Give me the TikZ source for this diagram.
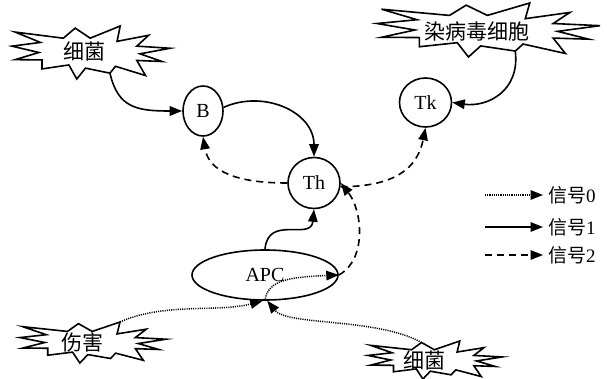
\documentclass[tikz,border=0pt]{standalone}
\usepackage{fontspec}
\setmainfont{Liberation Serif}
\newfontfamily\cjk{Noto Sans CJK SC}
\usetikzlibrary{arrows.meta,shapes.geometric}

% outline of an explosion-shaped badge, in unit coordinates
\newcommand\burstshape{%
  \draw[burstline] (-0.96,0.77) -- (-0.35,0.54) -- (-0.20,0.92) -- (-0.01,0.54)
    -- (0.37,1.0) -- (0.33,0.42) -- (0.73,0.65) -- (0.58,0.24) -- (1.0,0.16)
    -- (0.62,-0.05) -- (0.90,-0.34) -- (0.58,-0.30) -- (0.69,-0.87)
    -- (0.31,-0.52) -- (0.24,-0.78) -- (-0.07,-0.59) -- (-0.18,-1.0)
    -- (-0.28,-0.47) -- (-0.62,-0.62) -- (-0.62,-0.28) -- (-0.96,-0.27)
    -- (-0.66,0.0) -- (-1.0,0.24) -- (-0.64,0.38) -- cycle;}

\tikzset{
  tip/.style={-{Triangle[length=12.5pt,width=9.5pt]}},
  sig0/.style={line width=1.5pt, dash pattern=on 1.1pt off 1.1pt, tip},
  sig1/.style={line width=1.6pt, tip},
  sig2/.style={line width=1.6pt, dash pattern=on 7pt off 5pt, tip},
  cell/.style={draw, ellipse, line width=1.6pt, inner sep=0pt,
    font=\fontsize{20}{24}\selectfont},
  burstline/.style={line width=1.6pt, line join=miter, fill=white},
  bursttext/.style={inner sep=0pt, font=\cjk\fontsize{21}{25}\selectfont},
  legendtext/.style={anchor=west, inner sep=0pt, font=\fontsize{19}{23}\selectfont}
}

\begin{document}
\begin{tikzpicture}[x=1pt,y=-1pt]
\useasboundingbox (0,0) rectangle (607,379);

% stimuli
\begin{scope}[shift={(91,52.5)}, x=79pt, y=26.5pt]
  \burstshape
  \node[bursttext] (germA) at (-0.08,0.03) {细菌};
  \coordinate (germAout) at (0.24,-0.78);
\end{scope}
\begin{scope}[shift={(488.5,30)}, x=111.5pt, y=27pt]
  \burstshape
  \node[bursttext] (virus) at (-0.1,-0.07) {染病毒细胞};
  \coordinate (virusout) at (0.24,-0.78);
\end{scope}
\begin{scope}[shift={(93,342.5)}, x=73pt, y=20.5pt]
  \burstshape
  \node[bursttext] (harm) at (-0.15,0) {伤害};
  \coordinate (harmout) at (0.37,1.0);
\end{scope}
\begin{scope}[shift={(435,360)}, x=67pt, y=19pt]
  \burstshape
  \node[bursttext] (germB) at (-0.15,0) {细菌};
  \coordinate (germBout) at (-0.20,0.92);
\end{scope}

% cells
\node[cell, minimum width=40pt, minimum height=50pt] (B) at (203,111) {B};
\node[cell, minimum width=52pt, minimum height=51pt] (Th) at (314,183) {Th};
\node[cell, minimum width=52pt, minimum height=49pt] (Tk) at (425.5,102.5) {Tk};
\node[cell, minimum width=146pt, minimum height=50pt] (APC) at (265,275) {APC};

% signals
\draw[sig1] (germAout) .. controls +(8,35) and +(-45,0) .. (B.west);
\draw[sig1] (virusout) .. controls +(5,40) and +(35,5) .. (Tk.east);
\draw[sig1] (B.10) .. controls +(40,-18) and +(0,-45) .. (Th.north);
\draw[sig2] (Th.west) .. controls +(-50,0) and +(6,35) .. (B.south);
\draw[sig2] (Th.-8) .. controls +(55,0) and +(-8,40) .. (Tk.south);
\draw[sig1] (APC.north) .. controls +(3,-35) and +(-3,32) .. (Th.south);
\draw[sig2] (APC.east) .. controls +(28,-15) and +(22,28) .. (Th.east);
\draw[sig0] (APC.south) .. controls +(2,-22) and +(-45,2) .. (APC.east);
\draw[sig0] (harmout) .. controls +(45,-20) and +(-45,12) .. (APC.-95);
\draw[sig0] (germBout) .. controls +(-45,-25) and +(20,25) .. (APC.-85);

% legend
\coordinate (l0a) at (485,195); \coordinate (l0b) at (543,195);
\coordinate (l1a) at (485,227); \coordinate (l1b) at (543,227);
\coordinate (l2a) at (485,255); \coordinate (l2b) at (543,255);
\draw[sig0] (l0a) -- (l0b);
\draw[sig1] (l1a) -- (l1b);
\draw[sig2] (l2a) -- (l2b);
\node[legendtext] (t0) at (548,195) {{\cjk 信号}0};
\node[legendtext] (t1) at (548,227) {{\cjk 信号}1};
\node[legendtext] (t2) at (548,255) {{\cjk 信号}2};
\end{tikzpicture}
\end{document}
